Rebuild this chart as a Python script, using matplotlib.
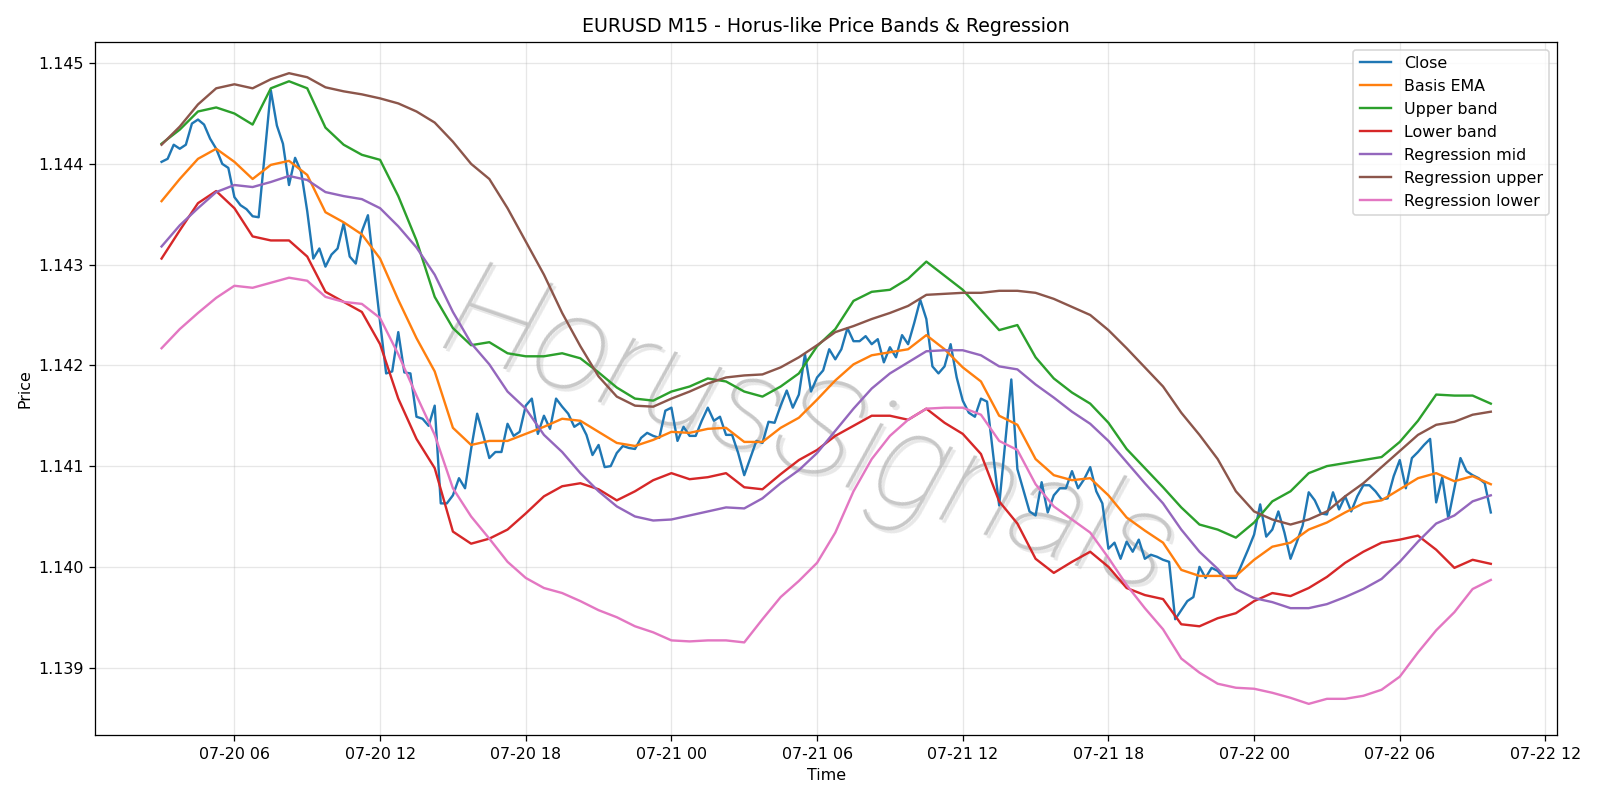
import matplotlib
matplotlib.use("Agg")
import matplotlib.pyplot as plt
import matplotlib.dates as mdates
from matplotlib.transforms import offset_copy
import pandas as pd

# EURUSD M15 closes, 07-20 03:00 -> 07-22 09:45
close = [
    1.14402, 1.14405, 1.14419, 1.14415, 1.14419, 1.14440, 1.14444, 1.14439,
    1.14425, 1.14415, 1.14400, 1.14396, 1.14367, 1.14359, 1.14355, 1.14348,
    1.14347, 1.14410, 1.14473, 1.14438, 1.14420, 1.14379, 1.14406, 1.14392,
    1.14353, 1.14306, 1.14316, 1.14298, 1.14310, 1.14316, 1.14341, 1.14308,
    1.14301, 1.14333, 1.14349, 1.14296, 1.14243, 1.14192, 1.14194, 1.14233,
    1.14193, 1.14192, 1.14149, 1.14147, 1.14140, 1.14160, 1.14063, 1.14063,
    1.14071, 1.14088, 1.14078, 1.14117, 1.14152, 1.14131, 1.14108, 1.14114,
    1.14114, 1.14142, 1.14130, 1.14134, 1.14160, 1.14167, 1.14132, 1.14150,
    1.14137, 1.14167, 1.14159, 1.14152, 1.14139, 1.14143, 1.14131, 1.14111,
    1.14121, 1.14099, 1.14100, 1.14113, 1.14120, 1.14118, 1.14117, 1.14128,
    1.14133, 1.14130, 1.14128, 1.14155, 1.14158, 1.14125, 1.14139, 1.14130,
    1.14130, 1.14145, 1.14158, 1.14145, 1.14149, 1.14131, 1.14131, 1.14113,
    1.14091, 1.14108, 1.14125, 1.14123, 1.14144, 1.14143, 1.14160, 1.14175,
    1.14158, 1.14171, 1.14211, 1.14174, 1.14188, 1.14195, 1.14216, 1.14206,
    1.14216, 1.14237, 1.14224, 1.14224, 1.14229, 1.14221, 1.14226, 1.14203,
    1.14218, 1.14208, 1.14230, 1.14221, 1.14242, 1.14265, 1.14246, 1.14199,
    1.14192, 1.14199, 1.14221, 1.14188, 1.14165, 1.14153, 1.14149, 1.14167,
    1.14164, 1.14112, 1.14061, 1.14123, 1.14186, 1.14097, 1.14076, 1.14055,
    1.14051, 1.14084, 1.14054, 1.14071, 1.14078, 1.14078, 1.14095, 1.14078,
    1.14087, 1.14099, 1.14075, 1.14063, 1.14018, 1.14024, 1.14008, 1.14025,
    1.14015, 1.14027, 1.14008, 1.14012, 1.14010, 1.14007, 1.14005, 1.13948,
    1.13957, 1.13966, 1.13970, 1.14000, 1.13989, 1.13999, 1.13996, 1.13989,
    1.13989, 1.13989, 1.14003, 1.14017, 1.14032, 1.14062, 1.14030, 1.14037,
    1.14055, 1.14034, 1.14008, 1.14024, 1.14041, 1.14074, 1.14066, 1.14053,
    1.14052, 1.14074, 1.14057, 1.14070, 1.14055, 1.14070, 1.14081, 1.14081,
    1.14075, 1.14067, 1.14068, 1.14090, 1.14106, 1.14078, 1.14108, 1.14114,
    1.14121, 1.14127, 1.14064, 1.14089, 1.14048, 1.14078, 1.14108, 1.14095,
    1.14091, 1.14088, 1.14083, 1.14054,
]

# indicator lines, read every 45 minutes over the same span
basis_ema = [
    1.14363, 1.14385, 1.14405, 1.14415, 1.14402, 1.14385, 1.14399, 1.14403, 1.14389, 1.14352, 1.14342, 1.14330, 1.14306,
    1.14265, 1.14227, 1.14194, 1.14138, 1.14121, 1.14125, 1.14125, 1.14132, 1.14139, 1.14147, 1.14145, 1.14134, 1.14123,
    1.14120, 1.14126, 1.14134, 1.14133, 1.14137, 1.14138, 1.14124, 1.14124, 1.14138, 1.14148, 1.14166, 1.14185,
    1.14201, 1.14210, 1.14213, 1.14216, 1.14230, 1.14216, 1.14198, 1.14184, 1.14150, 1.14141, 1.14107, 1.14091, 1.14086,
    1.14088, 1.14071, 1.14049, 1.14036, 1.14024, 1.13997, 1.13991, 1.13991, 1.13991, 1.14007, 1.14020, 1.14024, 1.14037,
    1.14044, 1.14054, 1.14063, 1.14066, 1.14077, 1.14088, 1.14093, 1.14085, 1.14090, 1.14082,
]
upper_band = [
    1.14420, 1.14434, 1.14452, 1.14456, 1.14450, 1.14439, 1.14475, 1.14482, 1.14475, 1.14436, 1.14419, 1.14409, 1.14404,
    1.14368, 1.14324, 1.14268, 1.14237, 1.14220, 1.14223, 1.14212, 1.14209, 1.14209, 1.14212, 1.14207, 1.14193, 1.14178,
    1.14167, 1.14165, 1.14174, 1.14179, 1.14187, 1.14184, 1.14174, 1.14169, 1.14179, 1.14192, 1.14219, 1.14236,
    1.14264, 1.14273, 1.14275, 1.14286, 1.14303, 1.14289, 1.14275, 1.14255, 1.14235, 1.14240, 1.14208, 1.14187, 1.14173,
    1.14162, 1.14143, 1.14117, 1.14098, 1.14079, 1.14059, 1.14042, 1.14037, 1.14029, 1.14044, 1.14065, 1.14075, 1.14093,
    1.14100, 1.14103, 1.14106, 1.14109, 1.14124, 1.14145, 1.14171, 1.14170, 1.14170, 1.14162,
]
lower_band = [
    1.14306, 1.14334, 1.14361, 1.14373, 1.14356, 1.14328, 1.14324, 1.14324, 1.14308, 1.14273, 1.14263, 1.14253, 1.14221,
    1.14167, 1.14127, 1.14098, 1.14035, 1.14023, 1.14028, 1.14037, 1.14053, 1.14070, 1.14080, 1.14083, 1.14077, 1.14066,
    1.14075, 1.14086, 1.14093, 1.14087, 1.14089, 1.14093, 1.14079, 1.14077, 1.14092, 1.14106, 1.14116, 1.14130,
    1.14140, 1.14150, 1.14150, 1.14146, 1.14157, 1.14143, 1.14132, 1.14112, 1.14065, 1.14043, 1.14008, 1.13994, 1.14005,
    1.14015, 1.14000, 1.13979, 1.13972, 1.13968, 1.13943, 1.13941, 1.13949, 1.13954, 1.13966, 1.13974, 1.13971, 1.13979,
    1.13990, 1.14004, 1.14015, 1.14024, 1.14027, 1.14031, 1.14017, 1.13999, 1.14007, 1.14003,
]
reg_mid = [
    1.14318, 1.14339, 1.14356, 1.14372, 1.14379, 1.14377, 1.14382, 1.14388, 1.14384, 1.14372, 1.14368, 1.14365, 1.14356,
    1.14338, 1.14317, 1.14290, 1.14253, 1.14222, 1.14201, 1.14174, 1.14157, 1.14131, 1.14114, 1.14093, 1.14075, 1.14060,
    1.14050, 1.14046, 1.14047, 1.14051, 1.14055, 1.14059, 1.14058, 1.14068, 1.14083, 1.14096, 1.14113, 1.14135,
    1.14157, 1.14177, 1.14192, 1.14203, 1.14214, 1.14215, 1.14215, 1.14210, 1.14199, 1.14196, 1.14181, 1.14168, 1.14154,
    1.14142, 1.14125, 1.14104, 1.14083, 1.14063, 1.14037, 1.14015, 1.13998, 1.13978, 1.13969, 1.13965, 1.13959, 1.13959,
    1.13963, 1.13970, 1.13978, 1.13988, 1.14005, 1.14025, 1.14043, 1.14051, 1.14065, 1.14071,
]
reg_upper = [
    1.14419, 1.14437, 1.14459, 1.14475, 1.14479, 1.14475, 1.14484, 1.14490, 1.14486, 1.14476, 1.14472, 1.14469, 1.14465,
    1.14460, 1.14452, 1.14441, 1.14422, 1.14400, 1.14385, 1.14356, 1.14323, 1.14290, 1.14252, 1.14219, 1.14189, 1.14169,
    1.14160, 1.14159, 1.14167, 1.14174, 1.14182, 1.14188, 1.14190, 1.14191, 1.14198, 1.14208, 1.14220, 1.14233,
    1.14239, 1.14246, 1.14252, 1.14259, 1.14270, 1.14271, 1.14272, 1.14272, 1.14274, 1.14274, 1.14272, 1.14266, 1.14258,
    1.14250, 1.14235, 1.14217, 1.14198, 1.14179, 1.14153, 1.14131, 1.14107, 1.14075, 1.14055, 1.14047, 1.14042, 1.14047,
    1.14055, 1.14070, 1.14083, 1.14099, 1.14115, 1.14131, 1.14141, 1.14144, 1.14151, 1.14154,
]
reg_lower = [
    1.14217, 1.14236, 1.14252, 1.14267, 1.14279, 1.14277, 1.14282, 1.14287, 1.14284, 1.14268, 1.14263, 1.14261, 1.14247,
    1.14211, 1.14170, 1.14131, 1.14078, 1.14050, 1.14028, 1.14005, 1.13989, 1.13979, 1.13974, 1.13966, 1.13957, 1.13950,
    1.13941, 1.13935, 1.13927, 1.13926, 1.13927, 1.13927, 1.13925, 1.13948, 1.13970, 1.13986, 1.14004, 1.14034,
    1.14075, 1.14107, 1.14130, 1.14146, 1.14157, 1.14158, 1.14158, 1.14151, 1.14125, 1.14116, 1.14082, 1.14060, 1.14047,
    1.14034, 1.14009, 1.13982, 1.13959, 1.13938, 1.13909, 1.13895, 1.13884, 1.13880, 1.13879, 1.13875, 1.13870, 1.13864,
    1.13869, 1.13869, 1.13872, 1.13878, 1.13891, 1.13915, 1.13937, 1.13955, 1.13978, 1.13987,
]

close_times = pd.date_range("2023-07-20 03:00", periods=len(close), freq="15min")
line_times = pd.date_range("2023-07-20 03:00", periods=len(basis_ema), freq="45min")


def add_watermark(fig, ax, text="HorusSignals"):
    style = dict(fontsize=86, rotation=-19, ha="center", va="center",
                 style="italic", fontweight="light",
                 family=["Roboto", "DejaVu Sans"], zorder=0)
    shadow = offset_copy(ax.transAxes, fig=fig, x=3, y=-3, units="dots")
    ax.text(0.488, 0.43, text, transform=shadow, color="#e8e8e8", **style)
    ax.text(0.488, 0.43, text, transform=ax.transAxes, color="#c8c8c8", **style)


def plot_bands(outfile="out.png"):
    fig, ax = plt.subplots(figsize=(14, 7), dpi=800 / 7)
    add_watermark(fig, ax)
    ax.plot(close_times, close, label="Close")
    ax.plot(line_times, basis_ema, label="Basis EMA")
    ax.plot(line_times, upper_band, label="Upper band")
    ax.plot(line_times, lower_band, label="Lower band")
    ax.plot(line_times, reg_mid, label="Regression mid")
    ax.plot(line_times, reg_upper, label="Regression upper")
    ax.plot(line_times, reg_lower, label="Regression lower")

    ax.xaxis.set_major_locator(mdates.HourLocator(byhour=[0, 6, 12, 18]))
    ax.xaxis.set_major_formatter(mdates.DateFormatter("%m-%d %H"))
    ax.set_title("EURUSD M15 - Horus-like Price Bands & Regression")
    ax.set_xlabel("Time")
    ax.set_ylabel("Price")
    ax.grid(True, alpha=0.3)
    ax.legend(loc="upper right")
    fig.tight_layout()
    fig.savefig(outfile, dpi=800 / 7)


plot_bands()
